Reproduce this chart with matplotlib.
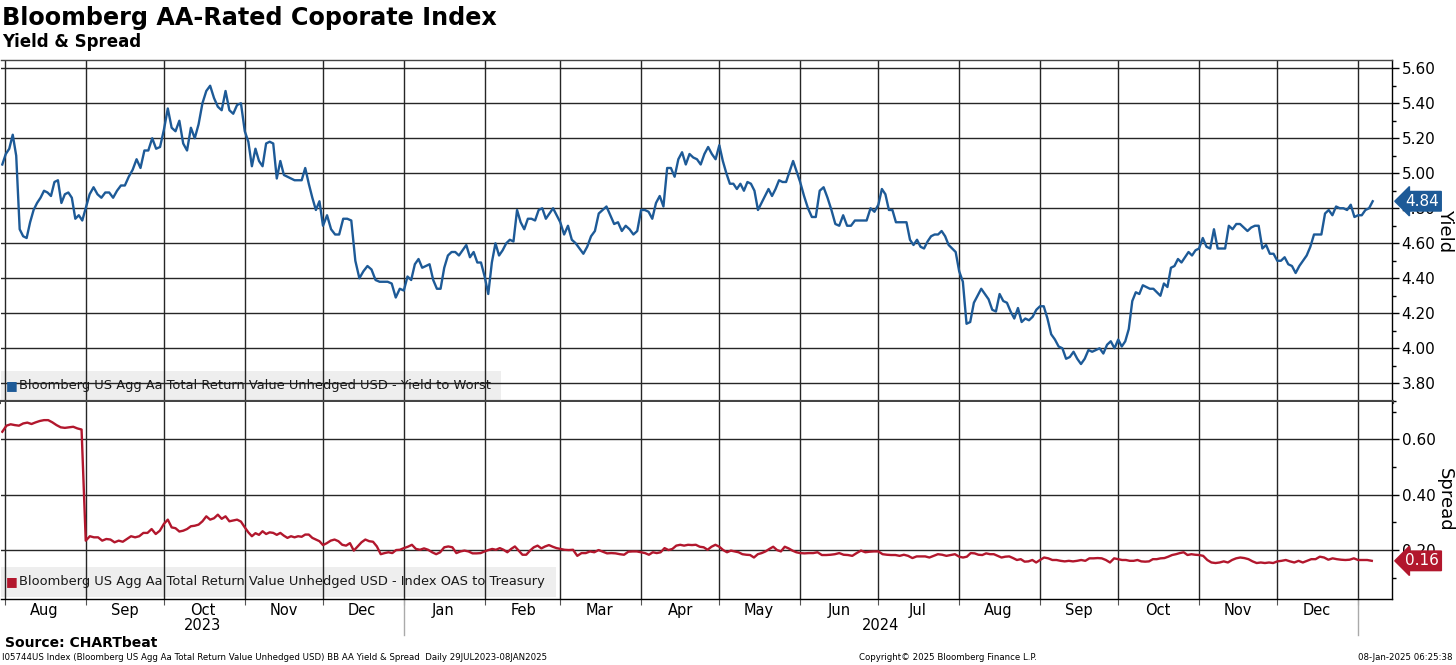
import numpy as np
import pandas as pd
import matplotlib
matplotlib.use("Agg")
import matplotlib.pyplot as plt
import matplotlib.dates as mdates
import matplotlib.ticker as mticker
from matplotlib.transforms import blended_transform_factory
from matplotlib.patches import Rectangle

plt.rcParams["font.family"] = ["DejaVu Sans"]

BLUE = "#1d5a97"
RED = "#b2172d"
GRID = "#262626"

# ── Data (daily values, grouped by month) ────────────────────────────────────

segment_starts = ["2023-07-31", "2023-09-01", "2023-10-01", "2023-11-01", "2023-12-01",
                  "2024-01-01", "2024-02-01", "2024-03-01", "2024-04-01", "2024-05-01",
                  "2024-06-01", "2024-07-01", "2024-08-01", "2024-09-01", "2024-10-01",
                  "2024-11-01", "2024-12-01", "2025-01-01"]
data_end = "2025-01-08"
month_labels = ["Aug", "Sep", "Oct", "Nov", "Dec", "Jan", "Feb", "Mar", "Apr",
                "May", "Jun", "Jul", "Aug", "Sep", "Oct", "Nov", "Dec"]
year_labels = ["2023", "2024"]

yield_to_worst = [
    [5.05, 5.11, 5.14, 5.22, 5.10, 4.68, 4.64, 4.63, 4.72, 4.79, 4.83, 4.86, 4.90, 4.89,
     4.87, 4.95, 4.96, 4.83, 4.88, 4.89, 4.86, 4.74, 4.76, 4.73],
    [4.80, 4.88, 4.92, 4.88, 4.86, 4.89, 4.89, 4.86, 4.90, 4.93, 4.93, 4.98, 5.02, 5.08,
     5.03, 5.13, 5.13, 5.20, 5.14, 5.15],
    [5.25, 5.37, 5.26, 5.24, 5.30, 5.17, 5.13, 5.26, 5.20, 5.28, 5.40, 5.47, 5.50, 5.43,
     5.38, 5.36, 5.47, 5.36, 5.34, 5.39, 5.40],
    [5.24, 5.18, 5.04, 5.14, 5.07, 5.04, 5.17, 5.18, 5.17, 4.97, 5.07, 4.99, 4.98, 4.97,
     4.96, 4.96, 4.96, 5.03, 4.94, 4.86, 4.79, 4.84],
    [4.70, 4.76, 4.68, 4.65, 4.65, 4.74, 4.74, 4.73, 4.50, 4.40, 4.44, 4.47, 4.45, 4.39,
     4.38, 4.38, 4.38, 4.37, 4.29, 4.34],
    [4.33, 4.41, 4.39, 4.48, 4.51, 4.46, 4.47, 4.48, 4.39, 4.34, 4.34, 4.46, 4.53, 4.55,
     4.55, 4.53, 4.56, 4.59, 4.52, 4.55, 4.49, 4.49],
    [4.41, 4.31, 4.49, 4.60, 4.53, 4.56, 4.60, 4.62, 4.61, 4.79, 4.72, 4.68, 4.74, 4.74,
     4.73, 4.79, 4.80, 4.74, 4.77, 4.80, 4.76],
    [4.72, 4.65, 4.70, 4.62, 4.60, 4.57, 4.54, 4.58, 4.64, 4.67, 4.77, 4.79, 4.81, 4.76,
     4.71, 4.72, 4.67, 4.70, 4.68, 4.65, 4.67],
    [4.79, 4.79, 4.78, 4.74, 4.83, 4.87, 4.81, 5.03, 5.03, 4.98, 5.08, 5.12, 5.05, 5.11,
     5.09, 5.08, 5.05, 5.11, 5.15, 5.11, 5.08],
    [5.16, 5.07, 5.00, 4.94, 4.94, 4.91, 4.94, 4.90, 4.95, 4.94, 4.90, 4.79, 4.83, 4.87,
     4.91, 4.87, 4.91, 4.96, 4.95, 4.95, 5.01, 5.07, 5.01],
    [4.95, 4.87, 4.80, 4.75, 4.75, 4.90, 4.92, 4.86, 4.79, 4.71, 4.70, 4.76, 4.70, 4.70,
     4.73, 4.73, 4.73, 4.73, 4.80, 4.78],
    [4.82, 4.91, 4.88, 4.79, 4.79, 4.72, 4.72, 4.72, 4.72, 4.62, 4.59, 4.62, 4.58, 4.57,
     4.61, 4.64, 4.65, 4.65, 4.67, 4.64, 4.59, 4.57, 4.55],
    [4.44, 4.38, 4.14, 4.15, 4.26, 4.30, 4.34, 4.31, 4.28, 4.22, 4.21, 4.31, 4.27, 4.26,
     4.21, 4.17, 4.23, 4.15, 4.17, 4.16, 4.18, 4.22],
    [4.24, 4.24, 4.17, 4.08, 4.05, 4.01, 4.00, 3.94, 3.95, 3.98, 3.94, 3.91, 3.94, 3.99,
     3.98, 3.99, 4.00, 3.97, 4.02, 4.04, 4.00],
    [4.05, 4.01, 4.04, 4.11, 4.27, 4.32, 4.31, 4.36, 4.35, 4.34, 4.34, 4.32, 4.30, 4.37,
     4.35, 4.46, 4.47, 4.51, 4.49, 4.52, 4.55, 4.53, 4.56],
    [4.57, 4.63, 4.58, 4.57, 4.68, 4.57, 4.57, 4.57, 4.70, 4.68, 4.71, 4.71, 4.69, 4.67,
     4.69, 4.70, 4.70, 4.57, 4.59, 4.54, 4.54],
    [4.50, 4.50, 4.52, 4.48, 4.47, 4.43, 4.47, 4.50, 4.53, 4.58, 4.65, 4.65, 4.65, 4.77,
     4.79, 4.76, 4.81, 4.80, 4.80, 4.79, 4.82, 4.75],
    [4.76, 4.76, 4.79, 4.80, 4.84],
]

oas_to_treasury = [
    [0.628, 0.650, 0.655, 0.652, 0.650, 0.658, 0.661, 0.656, 0.662, 0.667, 0.670, 0.670,
     0.662, 0.652, 0.644, 0.642, 0.644, 0.646, 0.640, 0.636],
    [0.234, 0.250, 0.246, 0.246, 0.234, 0.240, 0.238, 0.228, 0.234, 0.230, 0.240, 0.250,
     0.246, 0.250, 0.262, 0.262, 0.276, 0.258, 0.270],
    [0.295, 0.310, 0.282, 0.279, 0.267, 0.270, 0.276, 0.286, 0.288, 0.292, 0.304, 0.322,
     0.310, 0.315, 0.328, 0.313, 0.322, 0.304, 0.307, 0.310, 0.303],
    [0.282, 0.264, 0.250, 0.261, 0.255, 0.268, 0.258, 0.264, 0.262, 0.255, 0.262, 0.252,
     0.244, 0.250, 0.246, 0.250, 0.248, 0.256, 0.256, 0.244, 0.238, 0.232],
    [0.218, 0.225, 0.234, 0.238, 0.232, 0.219, 0.216, 0.225, 0.198, 0.213, 0.228, 0.238,
     0.232, 0.230, 0.213, 0.185, 0.189, 0.192, 0.189, 0.200, 0.201],
    [0.207, 0.212, 0.219, 0.204, 0.201, 0.206, 0.201, 0.192, 0.185, 0.192, 0.210, 0.213,
     0.210, 0.189, 0.195, 0.198, 0.195, 0.188, 0.188, 0.189],
    [0.195, 0.200, 0.204, 0.201, 0.207, 0.201, 0.192, 0.204, 0.213, 0.198, 0.183, 0.183,
     0.198, 0.210, 0.216, 0.206, 0.213, 0.218, 0.212, 0.207],
    [0.204, 0.201, 0.200, 0.201, 0.179, 0.189, 0.189, 0.195, 0.192, 0.200, 0.194, 0.188,
     0.189, 0.188, 0.185, 0.183, 0.194, 0.195, 0.195],
    [0.192, 0.189, 0.183, 0.192, 0.189, 0.192, 0.207, 0.200, 0.204, 0.216, 0.219, 0.216,
     0.219, 0.218, 0.219, 0.212, 0.210, 0.201, 0.212, 0.219],
    [0.212, 0.200, 0.192, 0.198, 0.195, 0.192, 0.185, 0.183, 0.182, 0.173, 0.185, 0.189,
     0.195, 0.204, 0.212, 0.200, 0.195, 0.212, 0.206, 0.198, 0.192],
    [0.189, 0.188, 0.189, 0.189, 0.192, 0.182, 0.182, 0.183, 0.185, 0.189, 0.183, 0.182,
     0.179, 0.189, 0.198, 0.192, 0.194, 0.195],
    [0.195, 0.185, 0.183, 0.182, 0.182, 0.179, 0.183, 0.179, 0.171, 0.177, 0.177, 0.177,
     0.173, 0.179, 0.185, 0.183, 0.179, 0.182, 0.185],
    [0.176, 0.173, 0.176, 0.189, 0.188, 0.183, 0.182, 0.188, 0.185, 0.185, 0.179, 0.173,
     0.176, 0.177, 0.171, 0.164, 0.167, 0.158, 0.159, 0.164, 0.155],
    [0.164, 0.173, 0.170, 0.164, 0.164, 0.161, 0.159, 0.161, 0.159, 0.161, 0.164, 0.161,
     0.170, 0.170, 0.171, 0.170, 0.164, 0.155, 0.170],
    [0.167, 0.164, 0.164, 0.161, 0.161, 0.164, 0.159, 0.158, 0.159, 0.167, 0.167, 0.170,
     0.171, 0.176, 0.182, 0.185, 0.189, 0.192, 0.182, 0.185, 0.183],
    [0.182, 0.179, 0.164, 0.155, 0.153, 0.155, 0.159, 0.155, 0.164, 0.170, 0.173, 0.171,
     0.167, 0.159, 0.153, 0.155, 0.153, 0.155, 0.153],
    [0.159, 0.161, 0.164, 0.159, 0.155, 0.161, 0.155, 0.161, 0.167, 0.167, 0.176, 0.173,
     0.165, 0.170, 0.167, 0.165, 0.164, 0.165, 0.170],
    [0.164, 0.164, 0.164, 0.161],
]

yield_ticks = [3.8, 4.0, 4.2, 4.4, 4.6, 4.8, 5.0, 5.2, 5.4, 5.6]
spread_ticks = [0.2, 0.4, 0.6]

YTW_NAME = "Bloomberg US Agg Aa Total Return Value Unhedged USD - Yield to Worst"
OAS_NAME = "Bloomberg US Agg Aa Total Return Value Unhedged USD - Index OAS to Treasury"


def expand(groups):
    """Spread each month's daily readings across that month."""
    bounds = pd.to_datetime(segment_starts + [data_end])
    dates, vals = [], []
    for k, grp in enumerate(groups):
        span = bounds[k + 1] - bounds[k]
        for i, v in enumerate(grp):
            dates.append(bounds[k] + span * i / len(grp))
            vals.append(v)
    return pd.DatetimeIndex(dates), np.array(vals)


ytw_dates, ytw = expand(yield_to_worst)
oas_dates, oas = expand(oas_to_treasury)

x_left = pd.Timestamp("2023-07-30 12:00")
x_right = pd.Timestamp("2025-01-14")

# ── Figure layout ─────────────────────────────────────────────────────────────

W, H = 1456, 665
fig = plt.figure(figsize=(W / 100, H / 100), dpi=100)
fig.patch.set_facecolor("white")

ax_l, ax_r = 1 / W, 1392 / W
ax1 = fig.add_axes([ax_l, 1 - 402 / H, ax_r - ax_l, 342 / H])
ax2 = fig.add_axes([ax_l, 1 - 599 / H, ax_r - ax_l, 197 / H], sharex=ax1)


def style_axis(ax, ticks, minor_step, ylim):
    ax.set_xlim(x_left, x_right)
    ax.set_ylim(*ylim)
    ax.yaxis.tick_right()
    ax.set_yticks(ticks)
    ax.yaxis.set_minor_locator(mticker.MultipleLocator(minor_step))
    ax.yaxis.set_major_formatter(mticker.FormatStrFormatter("%.2f"))
    ax.tick_params(axis="y", which="major", direction="out", length=5, width=1,
                   labelsize=11, pad=2, colors="black")
    ax.tick_params(axis="y", which="minor", direction="out", length=3, width=1)
    ax.xaxis.set_major_locator(mdates.MonthLocator())
    ax.grid(True, which="major", color=GRID, lw=1.0)
    for s in ax.spines.values():
        s.set_color("black")
        s.set_linewidth(1.0)
    ax.spines["left"].set_visible(False)


style_axis(ax1, yield_ticks, 0.1, (3.693, 5.647))
style_axis(ax2, spread_ticks, 0.1, (0.0229, 0.7356))

ax1.tick_params(axis="x", which="both", length=0, labelbottom=False)
ax1.spines["top"].set_color("#444444")
ax1.spines["bottom"].set_color("#454545")
ax1.spines["bottom"].set_linewidth(3)
ax2.spines["top"].set_visible(False)

# month labels mid-month, short ticks at month boundaries
ax2.xaxis.set_major_formatter(mticker.NullFormatter())
ax2.tick_params(axis="x", which="major", direction="out", length=4, color="#555555")
ax2.xaxis.set_minor_locator(mdates.MonthLocator(bymonthday=16))
ax2.xaxis.set_minor_formatter(mticker.FixedFormatter(month_labels))
ax2.tick_params(axis="x", which="minor", length=0, labelsize=10.5, pad=3)

# ── Series ────────────────────────────────────────────────────────────────────

ax1.plot(ytw_dates, ytw, color=BLUE, lw=1.7, zorder=4)
ax2.plot(oas_dates, oas, color=RED, lw=1.7, zorder=4)

# legend strips
for ax, name, color, h_px, w_px, ax_h in [
    (ax1, YTW_NAME, BLUE, 29, 500, 342),
    (ax2, OAS_NAME, RED, 30, 555, 197),
]:
    ax.add_patch(Rectangle((0, 2 / ax_h), w_px / 1391, h_px / ax_h, transform=ax.transAxes,
                           facecolor="#eeeeee", edgecolor="none", zorder=0.5))
    yc = (2 + h_px / 2) / ax_h
    ax.text(5 / 1391, yc, "■", transform=ax.transAxes, color=color, fontsize=9,
            va="center", ha="left", zorder=5)
    ax.text(18 / 1391, yc, name, transform=ax.transAxes, color="#1a1a1a", fontsize=9.35,
            va="center", ha="left", zorder=5)

# last-value tags (they sit over the nearby axis label, as in the original)
for ax, vals, color in [(ax1, ytw, BLUE), (ax2, oas, RED)]:
    tr = blended_transform_factory(ax.transAxes, ax.transData)
    ax.text(1.0095, vals[-1], f"{vals[-1]:.2f}", transform=tr, color="white", fontsize=11,
            ha="left", va="center", clip_on=False, zorder=6,
            bbox=dict(boxstyle="larrow,pad=0.15", fc=color, ec=color))

fig.text(1445 / W, 1 - 231 / H, "Yield", rotation=270, fontsize=13, ha="center", va="center")
fig.text(1445 / W, 1 - 500 / H, "Spread", rotation=270, fontsize=13, ha="center", va="center")

# year labels and year separators
years = [pd.Timestamp("2024-01-01"), pd.Timestamp("2025-01-01")]
trx = blended_transform_factory(ax2.transData, ax2.transAxes)
year_spans = [(x_left, years[0]), (years[0], years[1])]
for label, (a, b) in zip(year_labels, year_spans):
    ax2.text(a + (b - a) / 2, -27 / 197, label, transform=trx, fontsize=10.5,
             ha="center", va="center")
for y in years:
    ax2.plot([y, y], [0, -36 / 197], transform=trx, color="#aaaaaa", lw=1, clip_on=False)

# ── Titles and footer ─────────────────────────────────────────────────────────

fig.text(2 / W, 1 - 18 / H, "Bloomberg AA-Rated Coporate Index", fontsize=17.2,
         fontweight="bold", ha="left", va="center")
fig.text(2 / W, 1 - 42 / H, "Yield & Spread", fontsize=12, fontweight="bold",
         ha="left", va="center")
fig.text(5 / W, 1 - 643 / H, "Source: CHARTbeat", fontsize=10, fontweight="bold",
         ha="left", va="center")
fig.text(2 / W, 1 - 658 / H,
         "I05744US Index (Bloomberg US Agg Aa Total Return Value Unhedged USD) BB AA Yield & Spread  Daily 29JUL2023-08JAN2025",
         fontsize=6.2, ha="left", va="center")
fig.text(948 / W, 1 - 658 / H, "Copyright\u00a9 2025 Bloomberg Finance L.P.", fontsize=6.2,
         ha="center", va="center")
fig.text(1453 / W, 1 - 658 / H, "08-Jan-2025 06:25:38", fontsize=6.2, ha="right", va="center")

fig.savefig("out.png", dpi=100)
